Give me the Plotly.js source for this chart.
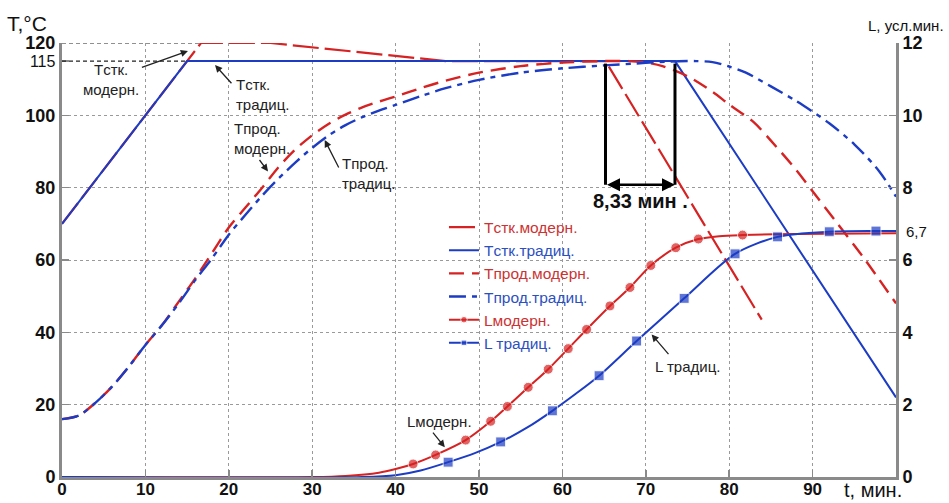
<!DOCTYPE html>
<html><head><meta charset="utf-8">
<script src="https://cdn.plot.ly/plotly-3.0.1.min.js"></script>
<style>html,body{margin:0;padding:0;background:#fff}#chart{width:949px;height:503px}</style>
</head><body><div id="chart"></div>
<script>
// ---- data ----
const tStkMod = [0, 16.67, 25, 46, 65.17, 83.9];
const TStkMod = [70, 120, 120, 115, 115, 43.5];

const tStkTrad = [0, 15, 73.5, 100];
const TStkTrad = [70, 115, 115, 22];

const tProdMod = [0,2,4,6,8,10,12,14,16,18,20,22,24,26,28,30,32,34,36,38,40,43,46,50,55,60,65,68,70,72,75,78,80,83,85,88,90,93,96,100];
const TProdMod = [16,17,20.5,25,30.5,36.5,42,48.5,55,62,69,74.5,80,85.8,90.6,94.5,97.7,100.2,102.2,103.8,105.2,107.5,109.6,111.8,113.6,114.6,115,115,114.6,113.6,110.8,106.5,103,98,93,85,79,70,61,48];

const tProdTrad = [0,2,4,6,8,10,12,14,16,18,20,22,24,26,28,30,32,34,36,38,40,43,46,50,55,60,65,70,73,76,78,80,82,85,88,90,92,95,98,100];
const TProdTrad = [16,17,20.5,25,30.5,36.5,42,48,54.5,60.5,67,72.5,77.8,82.6,87,91,94.5,97.3,99.5,101.3,102.9,105.3,107.5,109.8,111.8,113,113.8,114.5,114.9,115,114.7,113.5,111.8,108,104,101,97.8,92,84.5,77.5];

const tLMod = [0,30,34,38,40,42.1,44.8,48.4,51.4,53.4,55.9,58.3,60.7,62.9,65.7,68.1,70.6,73.6,76.3,78.8,81.6,88,100];
const LMod  = [0,0,0.03,0.12,0.22,0.36,0.61,1.02,1.54,1.95,2.48,2.98,3.55,4.08,4.73,5.24,5.85,6.34,6.58,6.66,6.69,6.72,6.74];
const LModMarked = [0,0,0,0,0,1,1,1,1,1,1,1,1,1,1,1,1,1,1,0,1,0,0];

const tLTrad = [0,36,40,43,46.3,49.5,52.6,55.8,58.8,61.6,64.4,68.9,74.6,80.7,85.8,92,97.6,100];
const LTrad  = [0,0,0.05,0.18,0.41,0.66,0.97,1.37,1.83,2.3,2.80,3.76,4.94,6.17,6.64,6.78,6.8,6.8];
const LTradMarked = [0,0,0,0,1,0,1,0,1,0,1,1,1,1,1,1,1,0];

const names = ['Tстк.модерн.','Tстк.традиц.','Tпрод.модерн.','Tпрод.традиц.','Lмодерн.','L традиц.'];
const xTicks = [0,10,20,30,40,50,60,70,80,90];
const yTicks = [0,20,40,60,80,100,115,120];
const y2Ticks = [0,2,4,6,8,10,12];
const finalL = 6.7;

// ---- style ----
const RED = '#d62222', BLUE = '#1c3cc4';
const RED_TXT = '#cc3333', BLUE_TXT = '#2d50bf';
const FONT = 'Liberation Sans, Arial, sans-serif';
const col = (c, s) => '<span style="color:' + c + '">' + s + '</span>';

const traces = [
  {x: tStkMod, y: TStkMod, name: col(RED_TXT, names[0]), mode: 'lines',
   line: {color: RED, width: 2.2, dash: '26px,6px'}},
  {x: tStkTrad, y: TStkTrad, name: col(BLUE_TXT, names[1]), mode: 'lines',
   line: {color: BLUE, width: 2}},
  {x: tProdMod, y: TProdMod, name: col(RED_TXT, names[2]), mode: 'lines',
   line: {color: RED, width: 2.4, dash: '15px,8px', shape: 'spline', smoothing: 0.8}},
  {x: tProdTrad, y: TProdTrad, name: col(BLUE_TXT, names[3]), mode: 'lines',
   line: {color: BLUE, width: 2.4, dash: '17px,6px,5px,6px', shape: 'spline', smoothing: 0.8}},
  {x: tLMod, y: LMod, yaxis: 'y2', name: col(RED_TXT, names[4]), mode: 'lines+markers',
   line: {color: RED, width: 2, shape: 'spline', smoothing: 0.8},
   marker: {color: RED, symbol: 'circle', size: LModMarked.map(m => m ? 10 : 0)}},
  {x: tLTrad, y: LTrad, yaxis: 'y2', name: col(BLUE_TXT, names[5]), mode: 'lines+markers',
   line: {color: BLUE, width: 2, shape: 'spline', smoothing: 0.8},
   marker: {color: BLUE, symbol: 'square', size: LTradMarked.map(m => m ? 10 : 0)}}
];

const tCoolMod = tStkMod[4], tCoolTrad = tStkTrad[2];
const delta = (tCoolTrad - tCoolMod).toFixed(2).replace('.', ',');

const annFont = {family: FONT, size: 15, color: '#222'};
function arrow(hx, hy, tx, ty) {
  return {x: hx, y: hy, ax: tx, ay: ty, xref: 'x', yref: 'y', axref: 'x', ayref: 'y',
    text: ' ', font: {size: 1}, showarrow: true, arrowhead: 2, arrowsize: 1.1, arrowwidth: 1.3,
    arrowcolor: '#222', standoff: 0, startstandoff: 0};
}
function label(x, y, text, align) {
  return {x: x, y: y, xref: 'x', yref: 'y', text: text, showarrow: false, font: annFont,
    align: align || 'left', xanchor: 'center', yanchor: 'middle'};
}

const annotations = [
  label(5.9, 109.8, 'Tстк.<br>модерн.', 'center'),
  arrow(15.1, 117.8, 9.4, 113.1),
  label(24.1, 105.7, 'Tстк.<br>традиц.', 'left'),
  arrow(18.35, 113.9, 20.5, 108.4),
  label(24.0, 93.5, 'Tпрод.<br>модерн.', 'left'),
  arrow(24.7, 84.5, 23.5, 88.2),
  label(36.7, 84.0, 'Tпрод.<br>традиц.', 'left'),
  arrow(31.5, 93.2, 33.3, 85.0),
  label(45.3, 15.4, 'Lмодерн.'),
  arrow(45.9, 8.2, 44.3, 12.8),
  label(75.0, 30.5, 'L традиц.'),
  arrow(70.7, 39.4, 72.9, 33.5),
  // bracket double arrow
  {x: tCoolTrad, y: 80.8, ax: tCoolMod, ay: 80.8, xref: 'x', yref: 'y', axref: 'x', ayref: 'y',
   text: ' ', font: {size: 1}, showarrow: true, arrowhead: 2, arrowside: 'end+start', arrowsize: 1,
   arrowwidth: 2.6, arrowcolor: '#000', standoff: 0, startstandoff: 0},
  {x: (tCoolMod + tCoolTrad) / 2, y: 76.2, xref: 'x', yref: 'y', showarrow: false,
   text: '<b>' + delta + ' мин .</b>', font: {family: FONT, size: 20, color: '#111'}},
  // axis captions
  {xref: 'paper', yref: 'paper', x: -0.068, y: 1.046, xanchor: 'left', yanchor: 'middle',
   showarrow: false, text: 'T,°C', font: {family: FONT, size: 21, color: '#111'}},
  {xref: 'paper', yref: 'paper', x: 1.06, y: 1.041, xanchor: 'right', yanchor: 'middle',
   showarrow: false, text: 'L, усл.мин.', font: {family: FONT, size: 15, color: '#111'}},
  {xref: 'paper', yref: 'paper', x: 0.935, y: -0.03, xanchor: 'left', yanchor: 'middle',
   showarrow: false, text: 't, мин.', font: {family: FONT, size: 20, color: '#111'}},
  {xref: 'paper', yref: 'y2', x: 1.009, y: 6.78, xanchor: 'left', yanchor: 'middle',
   showarrow: false, text: String(finalL).replace('.', ','), font: {family: FONT, size: 15, color: '#111'}}
];

const shapes = [
  {type: 'line', xref: 'x', yref: 'y', x0: 0, x1: tStkTrad[1], y0: 115, y1: 115,
   line: {color: '#222', width: 1.2, dash: '4px,3px'}},
  {type: 'line', xref: 'x', yref: 'y', x0: 0, x1: tStkMod[1], y0: 120, y1: 120,
   line: {color: '#222', width: 1.2, dash: '4px,3px'}},
  {type: 'line', xref: 'x', yref: 'y', x0: tCoolMod, x1: tCoolMod, y0: 80.8, y1: 114.3,
   line: {color: '#000', width: 3}},
  {type: 'line', xref: 'x', yref: 'y', x0: tCoolTrad, x1: tCoolTrad, y0: 80.8, y1: 114.3,
   line: {color: '#000', width: 3}}
];

const b = v => '<b>' + v + '</b>';
const axisCommon = {
  showline: true, linecolor: '#8a8a8a', linewidth: 3, ticks: 'inside', ticklen: 7,
  tickcolor: '#8a8a8a', tickwidth: 1.5, zeroline: false, fixedrange: true,
  tickfont: {family: FONT, size: 18, color: '#111'}, gridcolor: '#9a9a9a', griddash: 'dot', gridwidth: 1
};

const layout = {
  width: 949, height: 503,
  margin: {l: 62, r: 53, t: 43, b: 26},
  paper_bgcolor: '#fff', plot_bgcolor: '#fff',
  font: {family: FONT},
  xaxis: Object.assign({}, axisCommon, {range: [0, 100], tickvals: xTicks, ticktext: xTicks.map(b),
    showgrid: true, ticklabelstandoff: -5, tickfont: {family: FONT, size: 17, color: '#111'}}),
  yaxis: Object.assign({}, axisCommon, {range: [0, 120], tickvals: yTicks,
    ticktext: yTicks.map(v => v === 115 ? '<span style="font-size:16px">115</span>' : b(v)), showgrid: false}),
  yaxis2: Object.assign({}, axisCommon, {range: [0, 12], tickvals: y2Ticks, ticktext: y2Ticks.map(b),
    overlaying: 'y', side: 'right', showgrid: true}),
  showlegend: true,
  legend: {x: 0.458, y: 0.614, xanchor: 'left', yanchor: 'top', bgcolor: 'rgba(0,0,0,0)',
    font: {family: FONT, size: 15.5}, itemwidth: 30},
  annotations: annotations,
  shapes: shapes
};

Plotly.newPlot('chart', traces, layout, {displayModeBar: false, staticPlot: true});
</script></body></html>
